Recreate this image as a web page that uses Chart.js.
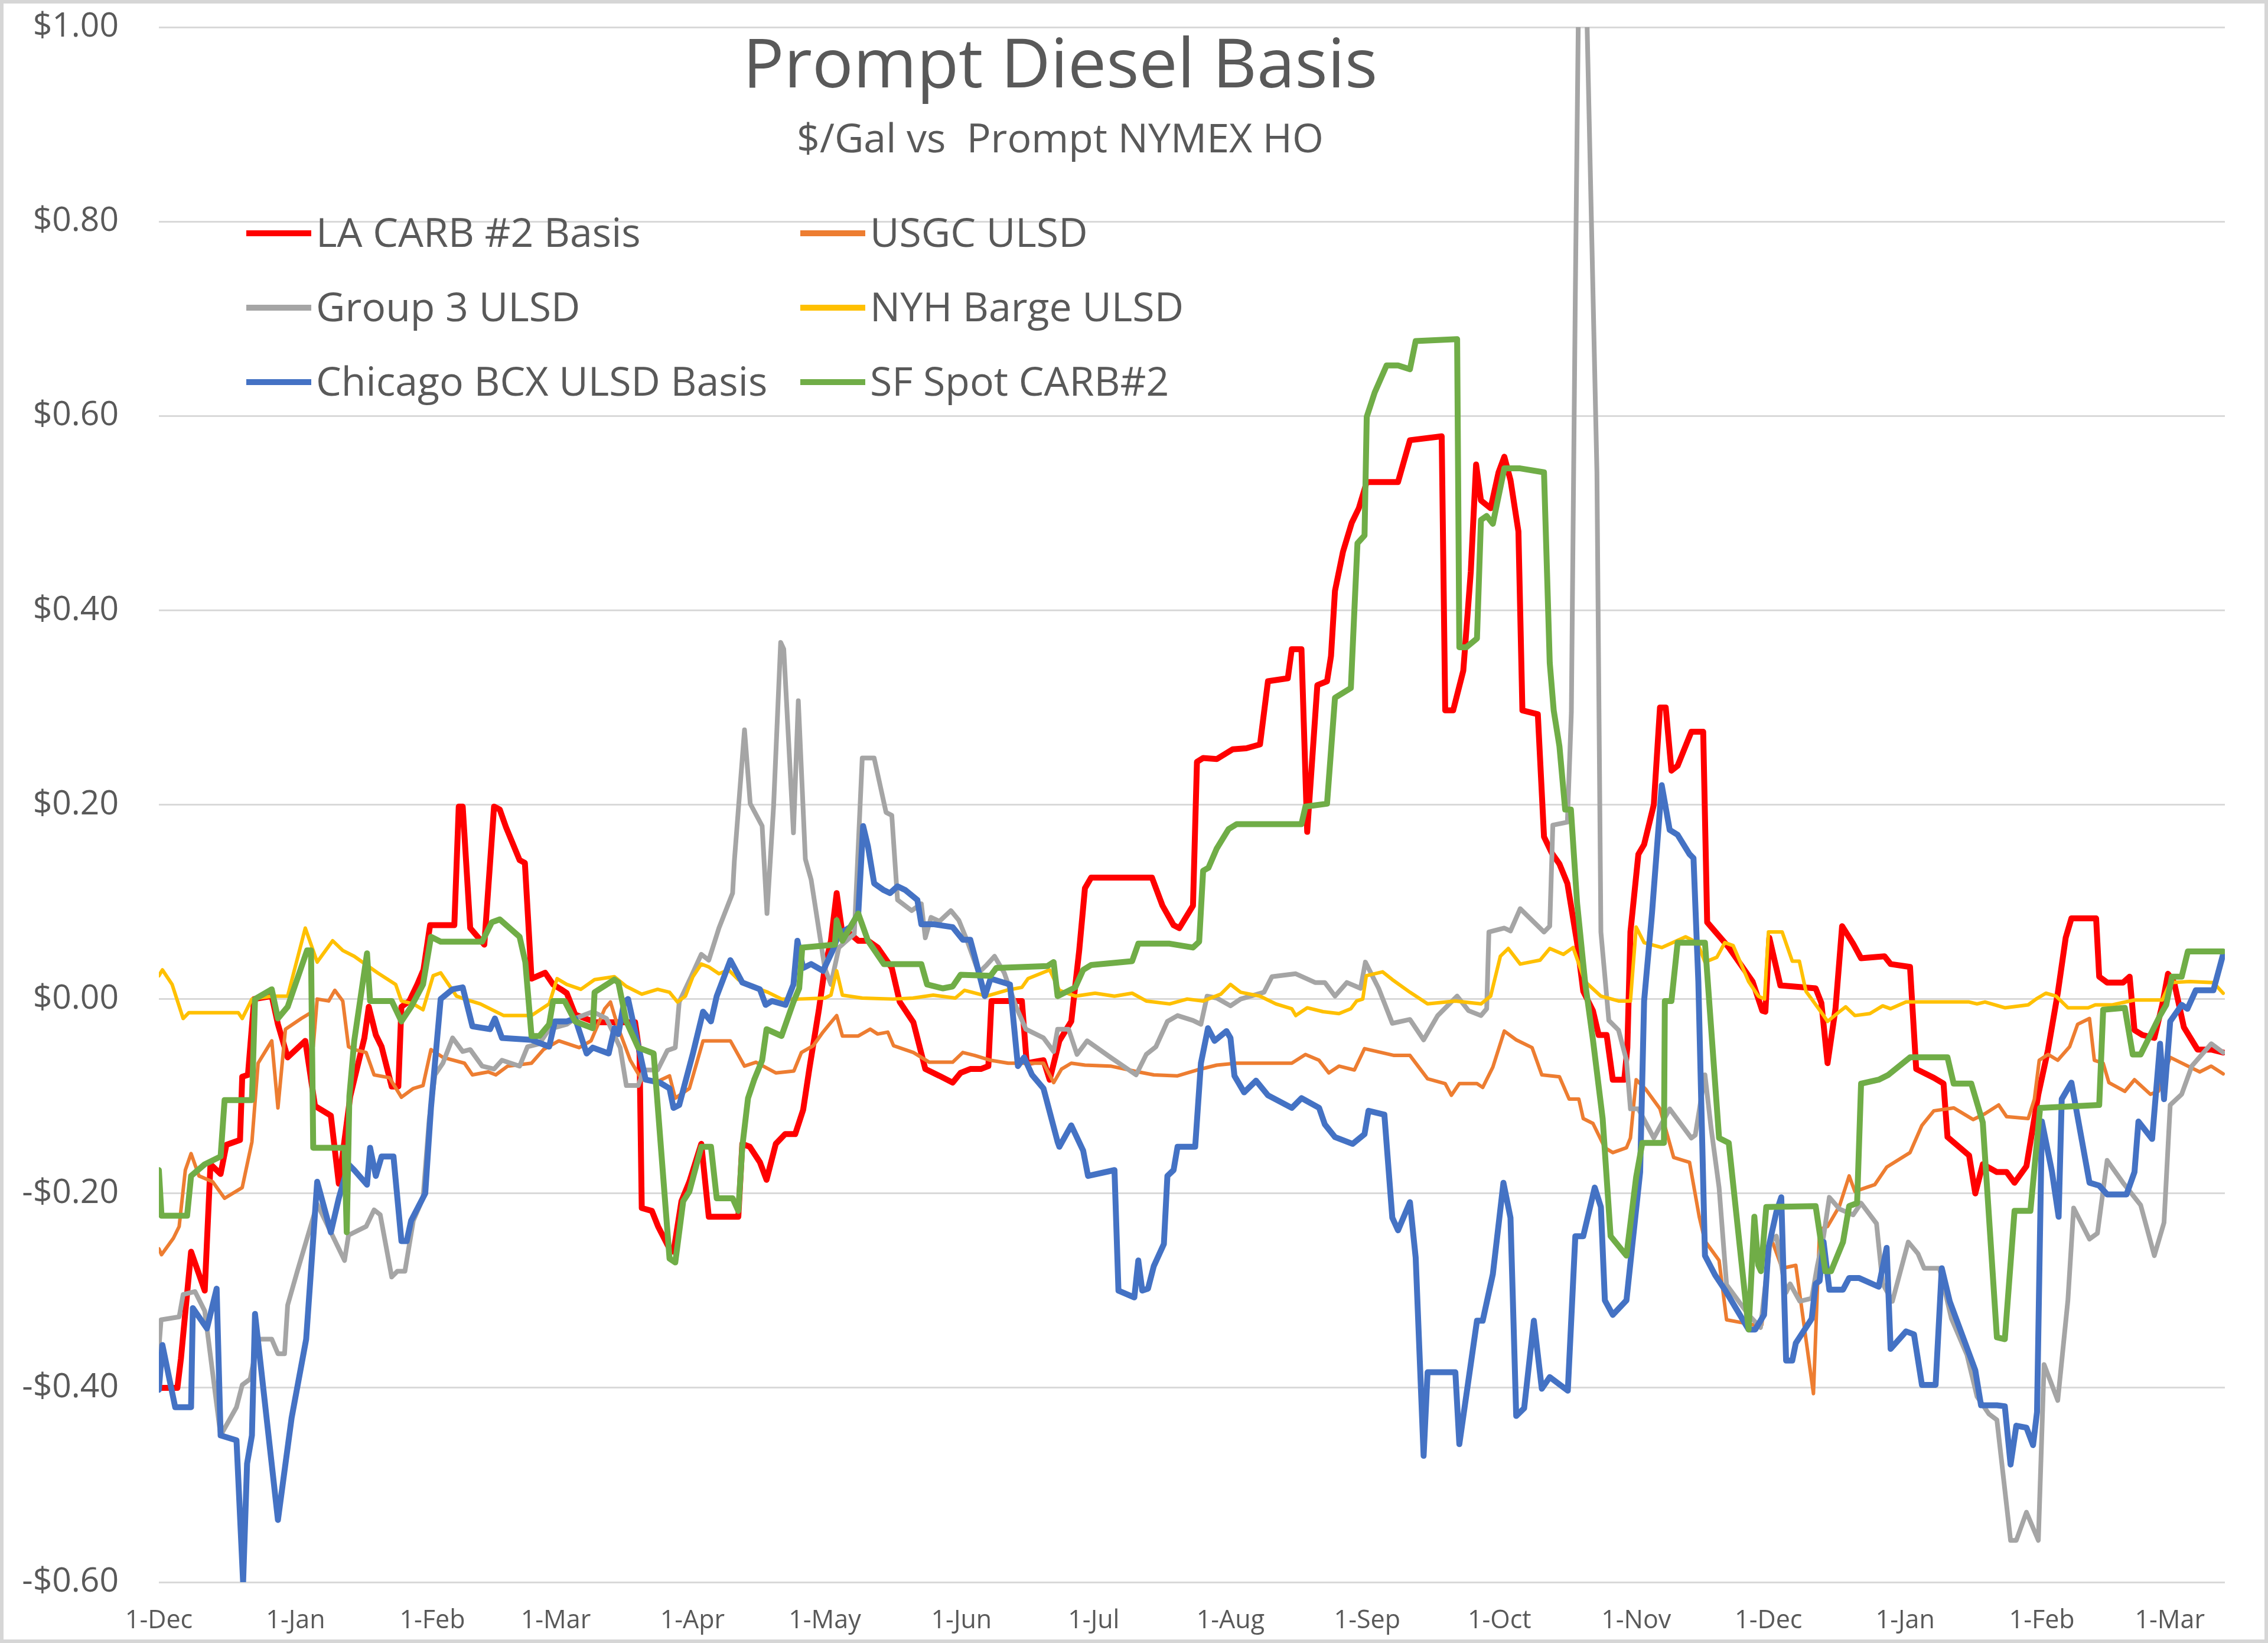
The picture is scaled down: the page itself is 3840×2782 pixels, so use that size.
<!DOCTYPE html>
<html>
<head>
<meta charset="utf-8">
<script src="https://cdn.jsdelivr.net/npm/chart.js@4.4.1/dist/chart.umd.min.js"></script>
<style>
html,body{margin:0;padding:0;background:#fff;}
#wrap{width:3840px;height:2782px;position:relative;}
</style>
</head>
<body>
<div id="wrap"><canvas id="c" width="3840" height="2782"></canvas></div>
<script>
// Day offsets are days since 1-Dec-2022
const monthTickDays = [0,31,62,90,121,151,182,212,243,274,304,335,365,396,427,456];
const monthTickLabels = ['1-Dec','1-Jan','1-Feb','1-Mar','1-Apr','1-May','1-Jun','1-Jul','1-Aug','1-Sep','1-Oct','1-Nov','1-Dec','1-Jan','1-Feb','1-Mar'];
const seriesNames = ['LA CARB #2 Basis','USGC ULSD','Group 3 ULSD','NYH Barge ULSD','Chicago BCX ULSD Basis','SF Spot CARB#2'];

const laDays = [0,4.2,5,7.3,10.4,11.7,14,15.3,18.4,18.9,20.2,21.6,25.6,27,29.2,33.2,35.4,39,40.8,43.4,44.3,46.6,47.6,49.2,50.5,52.8,54.3,55,56.8,58.6,60,61.5,67,68,68.9,70.6,73.8,76,77.3,78.7,81.8,83,84.5,87.6,89.4,91.2,92.5,94.4,99,108,109,109.5,111.8,113.2,115.8,116.7,118.5,120.3,123,124.7,131.4,132.3,134,136.3,137.8,139.9,142,144.3,146.1,147.5,149.7,151,152.4,153.7,155,156.8,158.6,160.8,163,166.2,168,171.1,173.8,177,180,181.8,184,186.4,188.1,188.8,195.7,196.8,200.6,202,204.2,206.9,208.7,210,211.4,225.2,227.6,230.1,231.4,234.5,235.4,236.8,239.9,243.5,246.6,249.7,251.5,256,256.9,259.1,260.4,262.7,264.9,265.8,266.7,268.5,270.5,272.1,273.9,281,283.7,290.9,291.7,293.5,295.8,297.5,298.7,299.8,302,303.8,305.1,306.5,308.3,309.2,312.7,314.1,315.9,317.6,319.4,321.6,323,325.2,326.5,328.3,329.7,332.3,333,333.7,335.5,336.8,339,340.4,341.7,343,344.4,347.5,350.2,351.1,355.1,356,361.4,363.6,364.3,365.2,367.7,375.7,377,378.4,380.2,381.7,384.2,386,391.3,392.7,397.1,398.5,402.5,404.7,405.6,410.5,411.9,413.6,416.8,419,420.8,423.5,426.2,428.4,430.6,432.4,433.7,439.3,440,441.8,445.4,446.9,448,449.8,452.5,454.3,455.6,457,459.2,462.3,465.4,468.1];
const laVals = [-0.40,-0.40,-0.37,-0.26,-0.30,-0.17,-0.18,-0.15,-0.145,-0.08,-0.078,0.0,0.003,-0.026,-0.06,-0.043,-0.11,-0.12,-0.19,-0.10,-0.083,-0.04,-0.008,-0.037,-0.049,-0.09,-0.09,-0.008,-0.002,0.015,0.03,0.076,0.076,0.198,0.198,0.073,0.056,0.198,0.195,0.177,0.143,0.14,0.021,0.027,0.015,0.01,0.006,-0.016,-0.024,-0.024,-0.056,-0.215,-0.218,-0.234,-0.257,-0.26,-0.208,-0.188,-0.149,-0.224,-0.224,-0.149,-0.152,-0.168,-0.186,-0.149,-0.139,-0.139,-0.114,-0.072,-0.01,0.032,0.06,0.109,0.067,0.067,0.06,0.06,0.053,0.032,-0.003,-0.024,-0.072,-0.079,-0.086,-0.076,-0.072,-0.072,-0.069,-0.002,-0.002,-0.066,-0.063,-0.083,-0.043,-0.023,0.05,0.114,0.125,0.125,0.096,0.076,0.073,0.096,0.244,0.248,0.247,0.257,0.258,0.262,0.327,0.33,0.36,0.36,0.172,0.323,0.327,0.353,0.42,0.46,0.49,0.505,0.532,0.532,0.575,0.579,0.297,0.297,0.338,0.44,0.55,0.513,0.505,0.542,0.558,0.534,0.481,0.297,0.293,0.167,0.15,0.139,0.119,0.058,0.008,-0.012,-0.037,-0.037,-0.083,-0.083,-0.05,0.069,0.149,0.159,0.2,0.3,0.3,0.235,0.24,0.275,0.275,0.079,0.058,0.053,0.018,-0.012,-0.013,0.063,0.014,0.011,-0.004,-0.066,-0.01,0.075,0.057,0.042,0.044,0.036,0.033,-0.072,-0.081,-0.087,-0.142,-0.161,-0.2,-0.17,-0.178,-0.178,-0.189,-0.172,-0.098,-0.052,0.006,0.063,0.083,0.083,0.023,0.017,0.017,0.023,-0.032,-0.037,-0.04,-0.006,0.026,0.017,-0.029,-0.052,-0.052,-0.055];

const usgcDays = [0,0.6,3.3,4.6,6,7.3,9.1,12.2,14.9,18.9,21.1,22.5,25.6,27,28.7,32.3,34.5,35,35.9,38.5,39.9,41.7,43,44.3,47,48.8,52.3,55,57.7,59.9,61.7,64.4,69.3,71.1,74.7,76.4,79.1,84.5,87.2,90.7,95.3,98,101.1,102.4,104.2,106.9,109.5,113,115.8,117.1,120.3,123.4,129.6,132.8,135.4,139.9,144,145.7,148.4,150.6,152.4,153.7,155,158.6,161.3,163,165.3,166.6,171.1,174.7,180,182.3,185,188.6,192.6,200.6,202.9,204.7,206.9,210,215.8,222.1,225.6,231,235.4,239.9,244.4,256.9,260,263.1,265.3,267.6,271.1,273.4,280.1,283.7,287.7,291.7,293.1,294.9,298.9,300.2,302.5,305.1,307.8,311.4,313.6,317.6,319.8,322,323,325.2,327.9,329.7,332.8,333.7,335,337.2,340.4,343.5,347.1,349.3,350.6,353.8,355.5,361.4,363.5,365.5,368.1,371.2,375.2,376.6,378.4,381.1,383.3,384.6,389.1,391.8,397.1,399.8,402.5,407,411.4,414.1,417.2,419,423.9,425.3,426.4,428.4,430.6,433.3,435.1,437.8,438.9,440.9,442.2,445.8,448,451.6,453.4,456.1,460.1,462.8,465.4,468.1];
const usgcVals = [-0.257,-0.263,-0.246,-0.234,-0.176,-0.159,-0.182,-0.188,-0.205,-0.194,-0.147,-0.066,-0.043,-0.112,-0.031,-0.02,-0.014,-0.049,0.0,-0.002,0.009,-0.002,-0.049,-0.052,-0.055,-0.078,-0.081,-0.101,-0.092,-0.089,-0.052,-0.06,-0.066,-0.078,-0.075,-0.078,-0.069,-0.066,-0.052,-0.043,-0.05,-0.043,-0.01,-0.003,-0.03,-0.063,-0.083,-0.085,-0.079,-0.102,-0.092,-0.043,-0.043,-0.069,-0.065,-0.076,-0.074,-0.055,-0.048,-0.034,-0.024,-0.017,-0.038,-0.038,-0.031,-0.036,-0.034,-0.048,-0.055,-0.065,-0.065,-0.055,-0.058,-0.063,-0.066,-0.066,-0.086,-0.072,-0.066,-0.068,-0.069,-0.075,-0.078,-0.079,-0.073,-0.068,-0.066,-0.066,-0.057,-0.063,-0.076,-0.069,-0.073,-0.051,-0.058,-0.058,-0.082,-0.087,-0.099,-0.087,-0.087,-0.091,-0.07,-0.033,-0.042,-0.05,-0.078,-0.08,-0.103,-0.103,-0.123,-0.128,-0.153,-0.158,-0.153,-0.143,-0.083,-0.093,-0.113,-0.163,-0.168,-0.224,-0.249,-0.269,-0.33,-0.335,-0.335,-0.245,-0.277,-0.274,-0.406,-0.237,-0.234,-0.213,-0.182,-0.198,-0.191,-0.173,-0.158,-0.13,-0.115,-0.112,-0.124,-0.118,-0.109,-0.121,-0.123,-0.103,-0.063,-0.057,-0.063,-0.049,-0.026,-0.02,-0.063,-0.066,-0.086,-0.095,-0.083,-0.098,-0.095,-0.06,-0.069,-0.075,-0.069,-0.077];

const g3Days = [0,0.5,4.6,5.5,8.2,10.4,14,17.6,18.9,20.7,22.5,25.6,27,28.5,29.2,31.4,35.9,39,42.1,43,47,48.8,50.2,52.8,54.1,55.8,57.7,59.9,61.3,62.6,64.4,66.6,68.9,70.6,73.3,76,77.8,81.8,83.6,86.3,88.5,92.5,94.4,98.4,101.5,104.6,106,108.7,110,113.1,115.3,117.1,118,120.7,123,124.7,127,130.1,130.5,132.8,134.1,136.8,137.9,139.4,141,141.7,143.9,145,146.6,147.9,151,152.4,154.2,157.7,159.5,162.2,164.9,166.2,167.5,170.7,172.9,173.8,175.1,177,179.6,181.4,183.2,185.9,187.7,189.5,191.7,194.4,196.6,200.6,202.9,203.8,206.3,208.2,210.5,215.8,221.6,223.9,226.1,228.7,231,234.5,236.3,237.7,239.9,243,245.3,250.6,252.4,257.8,262.2,264.4,266.7,269.4,272.5,273.6,276.6,279.7,283.7,286.8,290,294.4,297,299.8,301.1,301.6,305.1,306.5,308.7,314.1,315.4,316.1,319.4,320.3,321.2,322.1,323.4,326.1,327,328.8,331,332.8,333.7,335.5,339,342.6,347.5,348.4,350.6,352,353.8,355.5,360.5,363.2,365.4,366.8,369,369.9,372.1,374.8,376.1,377.5,378.8,381.1,384.2,386,389.5,390.9,393.1,396.7,398.9,400.3,403.8,406.5,410,412.3,415,416.8,418.6,419.9,421.2,423.5,426.2,427.5,430.6,432.9,434.2,437.8,439.6,441.8,445.4,449.4,452.5,454.7,456.1,458.7,461,465.4,468.1];
const g3Vals = [-0.36,-0.33,-0.327,-0.304,-0.301,-0.321,-0.449,-0.42,-0.397,-0.391,-0.35,-0.35,-0.365,-0.365,-0.315,-0.28,-0.211,-0.24,-0.269,-0.243,-0.234,-0.217,-0.222,-0.286,-0.28,-0.28,-0.228,-0.205,-0.124,-0.078,-0.066,-0.04,-0.054,-0.052,-0.069,-0.072,-0.063,-0.069,-0.049,-0.046,-0.031,-0.026,-0.02,-0.013,-0.02,-0.05,-0.089,-0.089,-0.073,-0.073,-0.053,-0.05,-0.003,0.023,0.046,0.04,0.073,0.109,0.142,0.277,0.201,0.178,0.088,0.199,0.367,0.36,0.171,0.307,0.144,0.123,0.032,0.015,0.053,0.067,0.248,0.248,0.192,0.189,0.102,0.091,0.098,0.063,0.084,0.08,0.091,0.081,0.061,0.027,0.035,0.044,0.027,-0.008,-0.031,-0.04,-0.054,-0.031,-0.031,-0.057,-0.043,-0.06,-0.078,-0.057,-0.049,-0.023,-0.017,-0.022,-0.026,0.003,0.001,-0.007,0.0,0.007,0.023,0.026,0.017,0.017,0.003,0.017,0.011,0.038,0.011,-0.025,-0.021,-0.042,-0.017,0.003,-0.012,-0.017,-0.01,0.069,0.073,0.07,0.093,0.069,0.075,0.179,0.182,0.295,0.724,1.1,1.1,0.542,0.069,-0.022,-0.032,-0.063,-0.113,-0.113,-0.143,-0.113,-0.143,-0.14,-0.078,-0.133,-0.194,-0.294,-0.325,-0.338,-0.25,-0.244,-0.302,-0.293,-0.311,-0.308,-0.274,-0.244,-0.204,-0.216,-0.222,-0.21,-0.231,-0.293,-0.311,-0.25,-0.262,-0.277,-0.277,-0.329,-0.366,-0.409,-0.427,-0.433,-0.505,-0.557,-0.557,-0.528,-0.557,-0.376,-0.413,-0.31,-0.215,-0.247,-0.241,-0.166,-0.189,-0.212,-0.264,-0.23,-0.109,-0.098,-0.069,-0.046,-0.055];

const nyhDays = [0,0.8,3,5.5,6.8,18,18.9,21.1,25.6,29.2,33.2,35.9,39.4,41.7,44.3,49.6,53.7,55,57.7,59.9,62.2,63.9,67.5,69.3,72.9,78.2,84.5,88.5,90.3,92.5,95.7,98.8,103.3,106,109.5,113.1,115.8,117.6,119.4,121.1,123,124.7,127,129.2,131.4,134.5,138.1,141.2,145,151,152.4,153.7,155,159.5,166.5,171,175.6,180.6,182.7,187.7,192.2,195.7,197.1,202,204.2,207.8,212.3,216.7,220.7,223.9,229.2,233.2,236.8,240.8,243,245.3,249.7,253.3,256.9,257.8,260.4,264,267.6,270.3,271.6,273,273.8,277.5,279.7,283.7,287.7,294,299.8,302,304.2,306,308.7,313.2,315.4,318.5,320.7,323.4,327,331,333.7,335,336.8,340.8,346.2,348.9,350.6,353.3,355.1,357,360.5,362.7,364.1,365,368.1,370.4,372,373.5,377.5,378.4,381.1,382.5,384.6,388,390.9,392.7,396.2,410.5,412.3,414.1,418.6,423.9,425.7,427.9,430.2,432.9,437.5,439.1,443,448,454.3,456.1,460.5,465.9,468.1];
const nyhVals = [0.024,0.03,0.015,-0.02,-0.014,-0.014,-0.02,0.0,0.003,0.003,0.073,0.038,0.06,0.05,0.044,0.027,0.015,-0.002,-0.005,-0.011,0.024,0.027,0.003,0.0,-0.005,-0.017,-0.017,-0.005,0.021,0.015,0.01,0.02,0.023,0.013,0.005,0.01,0.007,-0.003,0.003,0.023,0.036,0.033,0.026,0.03,0.02,0.013,0.007,0.0,0.0,0.001,0.004,0.029,0.004,0.001,0.0,0.001,0.004,0.001,0.009,0.003,0.009,0.012,0.021,0.03,0.009,0.003,0.006,0.003,0.006,-0.002,-0.005,0.0,-0.002,0.005,0.015,0.007,0.003,-0.005,-0.01,-0.017,-0.009,-0.013,-0.015,-0.01,-0.002,0.0,0.024,0.028,0.02,0.007,-0.005,-0.002,-0.005,0.003,0.044,0.052,0.036,0.04,0.052,0.046,0.053,0.018,0.003,-0.002,-0.002,0.074,0.058,0.053,0.064,0.058,0.038,0.043,0.058,0.055,0.018,0.003,0.0,0.069,0.069,0.039,0.039,0.008,-0.017,-0.023,-0.013,-0.008,-0.017,-0.015,-0.007,-0.01,-0.003,-0.003,-0.005,-0.003,-0.009,-0.006,0.0,0.006,0.003,-0.009,-0.009,-0.006,-0.006,-0.001,-0.001,0.017,0.018,0.017,0.006];

const chiDays = [0,0.8,3.7,7.3,7.7,10.9,13.1,14,17.6,19.1,20,21.1,21.8,27,30.1,33.4,35.9,39,40.8,43,44.3,47.2,47.9,49.2,50.5,53.2,55,56.2,57.2,60.4,61.7,63.9,66.6,68.9,71.1,75.1,76.2,77.8,84.5,88.5,89.8,92.5,94.4,97,98.4,102,103.3,104.2,105.5,106.4,110.4,113.6,115.8,116.7,118,121.1,123.4,125.2,126.5,129.6,132.3,136.3,137.6,139,142.1,143.9,144.8,146.1,147.9,150.6,152.8,154.2,156.8,158.6,159.7,160.8,162.2,164.4,165.8,167.5,169.3,172,172.9,175.6,180,182.3,184,185,187.3,188.6,193,194.8,196.2,198,200.6,203.8,204.2,206.9,209.6,210.7,216.7,217.6,221.2,222.1,223,224.3,225.6,227.9,228.7,230.1,231,235,236.3,237.9,239.4,242.1,243,243.9,246.1,248.8,251.5,256.9,259.1,263.1,264.4,266.7,270.7,273.4,274.3,277.9,279.7,281,283.7,285,286.8,287.7,294,294.9,298.9,300.2,302.5,304.9,306.5,307.8,309.6,311.8,313.6,315.4,319.5,321.2,323,325.6,327,327.9,329.7,332.8,334.1,335.9,336.8,338.6,340.8,342.6,344.4,347.1,348,349.1,350.6,352.9,355.1,360.5,362,364,365,366.8,367.9,369,370.4,371.2,374.8,375.7,376.6,377.5,378.8,381.9,383.3,385.5,390,391.8,392.7,396.2,398,399.8,402.9,404.3,406.1,411.9,413.2,416.8,418.6,419.9,421.2,423.5,425,425.9,427,429.3,430.8,431.5,433.7,437.8,440,441.8,446.2,448,448.9,452,453.8,454.7,456.1,458.7,460,461.9,465.9,468.1];
const chiVals = [-0.402,-0.356,-0.42,-0.42,-0.318,-0.339,-0.298,-0.449,-0.454,-0.6,-0.478,-0.449,-0.324,-0.536,-0.431,-0.35,-0.188,-0.24,-0.205,-0.17,-0.176,-0.191,-0.153,-0.182,-0.162,-0.162,-0.249,-0.249,-0.228,-0.2,-0.112,0.0,0.01,0.012,-0.028,-0.031,-0.02,-0.04,-0.042,-0.049,-0.023,-0.023,-0.02,-0.056,-0.05,-0.056,-0.03,-0.036,-0.003,0.0,-0.083,-0.086,-0.092,-0.112,-0.109,-0.056,-0.013,-0.023,0.003,0.04,0.017,0.01,-0.006,-0.002,-0.006,0.015,0.06,0.032,0.036,0.029,0.05,0.067,0.074,0.088,0.178,0.157,0.119,0.112,0.109,0.116,0.112,0.102,0.077,0.077,0.074,0.061,0.061,0.044,0.003,0.021,0.015,-0.069,-0.06,-0.078,-0.092,-0.147,-0.152,-0.13,-0.156,-0.182,-0.176,-0.3,-0.307,-0.269,-0.3,-0.298,-0.275,-0.252,-0.182,-0.176,-0.152,-0.152,-0.066,-0.03,-0.043,-0.033,-0.04,-0.079,-0.096,-0.084,-0.099,-0.112,-0.102,-0.112,-0.129,-0.142,-0.149,-0.139,-0.115,-0.119,-0.225,-0.238,-0.209,-0.266,-0.47,-0.384,-0.384,-0.458,-0.331,-0.331,-0.283,-0.189,-0.225,-0.429,-0.421,-0.331,-0.401,-0.389,-0.403,-0.244,-0.244,-0.194,-0.214,-0.31,-0.325,-0.31,-0.254,-0.178,-0.002,0.089,0.22,0.174,0.169,0.149,0.145,0.018,-0.264,-0.284,-0.299,-0.34,-0.34,-0.325,-0.256,-0.219,-0.204,-0.372,-0.372,-0.354,-0.329,-0.293,-0.29,-0.25,-0.299,-0.299,-0.287,-0.287,-0.296,-0.256,-0.36,-0.342,-0.345,-0.397,-0.397,-0.277,-0.311,-0.382,-0.418,-0.418,-0.419,-0.479,-0.439,-0.441,-0.459,-0.425,-0.126,-0.178,-0.224,-0.103,-0.086,-0.189,-0.192,-0.201,-0.201,-0.178,-0.126,-0.144,-0.046,-0.103,-0.023,-0.006,-0.01,0.009,0.009,0.046];

const sfDays = [0,0.6,6.4,7.3,10.4,14,14.9,21.1,21.8,25.6,27,29.2,33.6,34.5,35,42.1,42.6,43.2,44.3,47.2,47.9,52.8,55,57.2,59.9,61.7,63.9,73.3,75.5,77.3,81.8,83.1,84.5,86.3,88.5,89.4,92,94.4,98.4,98.8,103.3,104.2,106,108.7,112.2,115.8,117.1,118.9,120.3,123,125.2,126.5,130.1,131.4,132.3,133.6,135,136.8,137.8,141.2,143.9,145.2,145.9,153.3,153.7,155,156.8,158.6,160.8,164.4,172.9,174.2,177.8,180,181.8,188.6,189.9,201.5,202.9,203.8,207.8,209.6,211.4,220.7,222.1,229.2,234.5,235.9,236.8,238,239.9,242.6,244.4,259.1,260,264.9,266.7,270.3,271.3,271.8,273.4,273.9,275.7,278.4,281,283.7,285,294.4,294.9,296.5,298.9,299.8,301.1,302.5,305.1,308.7,314.1,315.4,316.3,317.6,318.9,320.2,321.6,323.4,325.2,327.4,329.2,332.8,335,336.4,341.3,341.5,343,344.4,350.6,353.8,356,360.5,361.8,362.7,363.3,364.5,375.7,377.9,379.2,381.9,383.3,385.1,386,390,392.2,397.1,405.6,407,411,413.6,416.8,418.6,420.8,424.4,426.6,440,440.9,445.8,447.6,449.4,453.8,455.2,456.5,458.7,460.1,468.1];
const sfVals = [-0.176,-0.223,-0.223,-0.182,-0.17,-0.162,-0.104,-0.104,0.0,0.01,-0.02,-0.008,0.05,0.05,-0.153,-0.153,-0.24,-0.1,-0.043,0.047,-0.002,-0.002,-0.023,-0.008,0.015,0.064,0.059,0.059,0.079,0.082,0.064,0.038,-0.038,-0.038,-0.026,-0.002,-0.002,-0.023,-0.03,0.007,0.02,0.017,-0.023,-0.05,-0.056,-0.267,-0.271,-0.208,-0.198,-0.152,-0.152,-0.205,-0.205,-0.218,-0.152,-0.102,-0.083,-0.063,-0.031,-0.038,-0.003,0.011,0.053,0.056,0.081,0.06,0.074,0.088,0.06,0.036,0.036,0.015,0.011,0.013,0.025,0.024,0.032,0.034,0.038,0.003,0.012,0.03,0.035,0.039,0.057,0.057,0.053,0.059,0.132,0.135,0.155,0.175,0.18,0.18,0.198,0.201,0.31,0.32,0.42,0.469,0.477,0.599,0.624,0.652,0.652,0.648,0.677,0.679,0.362,0.362,0.371,0.493,0.497,0.489,0.546,0.546,0.542,0.346,0.297,0.26,0.195,0.195,0.099,0.018,-0.042,-0.123,-0.244,-0.264,-0.183,-0.148,-0.148,-0.002,-0.002,0.058,0.058,-0.143,-0.148,-0.34,-0.224,-0.274,-0.28,-0.214,-0.213,-0.28,-0.28,-0.25,-0.213,-0.21,-0.087,-0.083,-0.078,-0.06,-0.06,-0.087,-0.087,-0.127,-0.348,-0.35,-0.218,-0.218,-0.112,-0.109,-0.011,-0.009,-0.057,-0.057,-0.017,-0.006,0.023,0.023,0.049,0.049];

const seriesDays = [laDays, usgcDays, g3Days, nyhDays, chiDays, sfDays];
const seriesVals = [laVals, usgcVals, g3Vals, nyhVals, chiVals, sfVals];
const seriesColors = ['#FF0000','#ED7D31','#A5A5A5','#FFC000','#4472C4','#70AD47'];
const seriesWidths = [10,6,8,6,10,10];

const FONT = '"Open Sans", "DejaVu Sans", sans-serif';
const TEXT = '#595959';

const datasets = seriesNames.map((name, i) => ({
  label: name,
  data: seriesDays[i].map((d, k) => ({x: d, y: seriesVals[i][k]})),
  borderColor: seriesColors[i],
  backgroundColor: seriesColors[i],
  borderWidth: seriesWidths[i],
  pointRadius: 0,
  tension: 0,
  fill: false,
  borderJoinStyle: 'round',
  borderCapStyle: 'round',
  order: seriesNames.length - 1 - i
}));

const overlayPlugin = {
  id: 'overlay',
  beforeDraw(chart) {
    const ctx = chart.ctx;
    ctx.save();
    ctx.fillStyle = '#ffffff';
    ctx.fillRect(0, 0, chart.width, chart.height);
    ctx.restore();
  },
  afterDraw(chart) {
    const ctx = chart.ctx;
    ctx.save();
    ctx.strokeStyle = '#d6d6d6';
    ctx.lineWidth = 6;
    ctx.strokeRect(3, 3, chart.width - 6, chart.height - 6);
    ctx.fillStyle = TEXT;
    ctx.textAlign = 'center';
    ctx.textBaseline = 'alphabetic';
    ctx.font = '116px ' + FONT;
    ctx.fillText('Prompt Diesel Basis', 1795, 148);
    ctx.font = '68px ' + FONT;
    ctx.fillText('$/Gal vs  Prompt NYMEX HO', 1795, 258);
    const colX = [417, 1355];
    const rowY = [395, 521, 647];
    ctx.textAlign = 'left';
    ctx.textBaseline = 'middle';
    ctx.font = '68px ' + FONT;
    chart.data.datasets.forEach((ds, i) => {
      const x = colX[i % 2], y = rowY[Math.floor(i / 2)];
      ctx.strokeStyle = ds.borderColor;
      ctx.lineWidth = 10;
      ctx.lineCap = 'butt';
      ctx.beginPath();
      ctx.moveTo(x, y);
      ctx.lineTo(x + 110, y);
      ctx.stroke();
      ctx.fillStyle = TEXT;
      ctx.fillText(ds.label, x + 118, y + 4);
    });
    ctx.restore();
  }
};

function fmtMoney(v) {
  const r = Math.round(v * 100) / 100;
  if (r < 0) return '-$' + Math.abs(r).toFixed(2);
  return '$' + Math.abs(r).toFixed(2);
}

new Chart(document.getElementById('c'), {
  type: 'line',
  data: { datasets },
  options: {
    responsive: false,
    animation: false,
    devicePixelRatio: 1,
    layout: { padding: { top: 46, right: 73, left: 0, bottom: 0 } },
    plugins: { legend: { display: false }, title: { display: false }, tooltip: { enabled: false } },
    scales: {
      x: {
        type: 'linear',
        min: 0,
        max: 468.5,
        afterBuildTicks(scale) { scale.ticks = monthTickDays.map(v => ({ value: v })); },
        afterFit(scale) { scale.height = 103; scale.paddingLeft = 0; scale.paddingRight = 0; },
        grid: { display: false, drawTicks: false },
        border: { display: false },
        ticks: {
          autoSkip: false,
          maxRotation: 0,
          minRotation: 0,
          padding: 40,
          color: TEXT,
          font: { family: FONT, size: 43 },
          callback(value) {
            const idx = monthTickDays.indexOf(value);
            return idx >= 0 ? monthTickLabels[idx] : '';
          }
        }
      },
      y: {
        min: -0.6,
        max: 1.0,
        afterFit(scale) { scale.width = 269; scale.paddingTop = 0; scale.paddingBottom = 0; },
        grid: { color: '#d9d9d9', lineWidth: 3, drawTicks: false },
        border: { display: false },
        ticks: {
          stepSize: 0.2,
          padding: 68,
          color: TEXT,
          font: { family: FONT, size: 57 },
          callback: fmtMoney
        }
      }
    }
  },
  plugins: [overlayPlugin]
});
</script>
</body>
</html>
